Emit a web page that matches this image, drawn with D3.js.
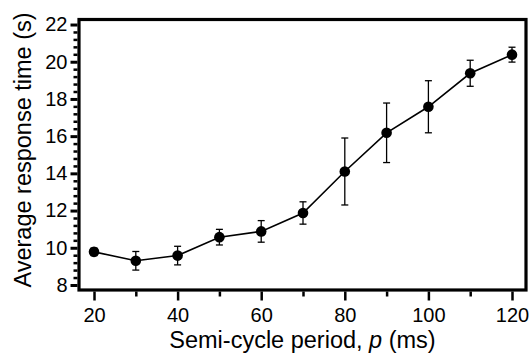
<!DOCTYPE html>
<html>
<head>
<meta charset="utf-8">
<script src="https://cdn.jsdelivr.net/npm/d3@7"></script>
<style>
  body { margin: 0; background: #fff; }
  svg text { font-family: "Liberation Sans", Arial, sans-serif; fill: #000; }
</style>
</head>
<body>
<svg id="chart" width="531" height="355"></svg>
<script>
// semi-cycle period (ms) and average response time (s) with error bars
var period   = [20, 30, 40, 50, 60, 70, 80, 90, 100, 110, 120];
var meanTime = [9.78, 9.3, 9.58, 10.57, 10.88, 11.87, 14.1, 16.18, 17.58, 19.38, 20.38];
var errTime  = [0.2, 0.5, 0.5, 0.42, 0.58, 0.6, 1.8, 1.6, 1.4, 0.7, 0.4];

var xMajor = [20, 40, 60, 80, 100, 120];
var xMinor = [30, 50, 70, 90, 110];
var yMajor = [8, 10, 12, 14, 16, 18, 20, 22];

var svg = d3.select("#chart");
var plotL = 79, plotR = 526, plotT = 19.5, plotB = 290;

var x = d3.scaleLinear().domain([16.41, 123.35]).range([plotL, plotR]);
var y = d3.scaleLinear().domain([7.73, 22.27]).range([plotB, plotT]);

// minor y ticks every 0.4
var yMinor = d3.range(8, 22.01, 0.4).filter(function(v){
	return Math.abs(Math.round(v) - v) > 0.01 || Math.round(v) % 2 == 1;
});

// x axis
var gx = svg.append("g").attr("transform", "translate(0," + (plotB + 1.5) + ")");
gx.append("g")
	.call(d3.axisBottom(x).tickValues(xMinor).tickSize(5).tickFormat(""))
	.call(function(g){ g.select(".domain").remove(); g.selectAll("line").attr("stroke-width", 2.5); });
gx.append("g")
	.call(d3.axisBottom(x).tickValues(xMajor).tickSize(9).tickPadding(7.5))
	.call(function(g){
		g.select(".domain").remove();
		g.selectAll("line").attr("stroke-width", 2.5);
		g.selectAll("text").attr("font-size", "20px").attr("fill", "#000")
			.attr("font-family", "Liberation Sans, Arial, sans-serif");
	});

// y axis
var gy = svg.append("g").attr("transform", "translate(" + (plotL - 1.5) + ",0)");
gy.append("g")
	.call(d3.axisLeft(y).tickValues(yMinor).tickSize(4).tickFormat(""))
	.call(function(g){ g.select(".domain").remove(); g.selectAll("line").attr("stroke-width", 2.5); });
gy.append("g")
	.call(d3.axisLeft(y).tickValues(yMajor).tickSize(7).tickPadding(3))
	.call(function(g){
		g.select(".domain").remove();
		g.selectAll("line").attr("stroke-width", 3);
		g.selectAll("text").attr("font-size", "20px").attr("fill", "#000")
			.attr("font-family", "Liberation Sans, Arial, sans-serif");
	});

// frame
svg.append("rect")
	.attr("x", plotL).attr("y", plotT)
	.attr("width", plotR - plotL).attr("height", plotB - plotT)
	.attr("fill", "none").attr("stroke", "#000").attr("stroke-width", 3.2);

// line
var pts = period.map(function(p, i){ return {x: p, y: meanTime[i], e: errTime[i]}; });
svg.append("path")
	.datum(pts)
	.attr("fill", "none").attr("stroke", "#000").attr("stroke-width", 1.6)
	.attr("d", d3.line().x(function(d){ return x(d.x); }).y(function(d){ return y(d.y); }));

// error bars
var eb = svg.append("g").selectAll("g").data(pts).enter().append("g")
	.attr("stroke", "#000").attr("stroke-width", 1.3);
eb.append("line")
	.attr("x1", function(d){ return x(d.x); }).attr("x2", function(d){ return x(d.x); })
	.attr("y1", function(d){ return y(d.y - d.e); }).attr("y2", function(d){ return y(d.y + d.e); });
eb.append("line")
	.attr("x1", function(d){ return x(d.x) - 3.5; }).attr("x2", function(d){ return x(d.x) + 3.5; })
	.attr("y1", function(d){ return y(d.y + d.e); }).attr("y2", function(d){ return y(d.y + d.e); });
eb.append("line")
	.attr("x1", function(d){ return x(d.x) - 3.5; }).attr("x2", function(d){ return x(d.x) + 3.5; })
	.attr("y1", function(d){ return y(d.y - d.e); }).attr("y2", function(d){ return y(d.y - d.e); });

// markers
svg.append("g").selectAll("circle").data(pts).enter().append("circle")
	.attr("cx", function(d){ return x(d.x); })
	.attr("cy", function(d){ return y(d.y); })
	.attr("r", 5.3)
	.attr("fill", "#000");

// axis titles
var xt = svg.append("text")
	.attr("x", (plotL + plotR) / 2).attr("y", 348)
	.attr("text-anchor", "middle").attr("font-size", "23.5px");
xt.append("tspan").text("Semi-cycle period, ");
xt.append("tspan").attr("font-style", "italic").text("p");
xt.append("tspan").text(" (ms)");

svg.append("text")
	.attr("transform", "translate(31,150) rotate(-90)")
	.attr("text-anchor", "middle").attr("font-size", "23.5px")
	.text("Average response time (s)");
</script>
</body>
</html>
